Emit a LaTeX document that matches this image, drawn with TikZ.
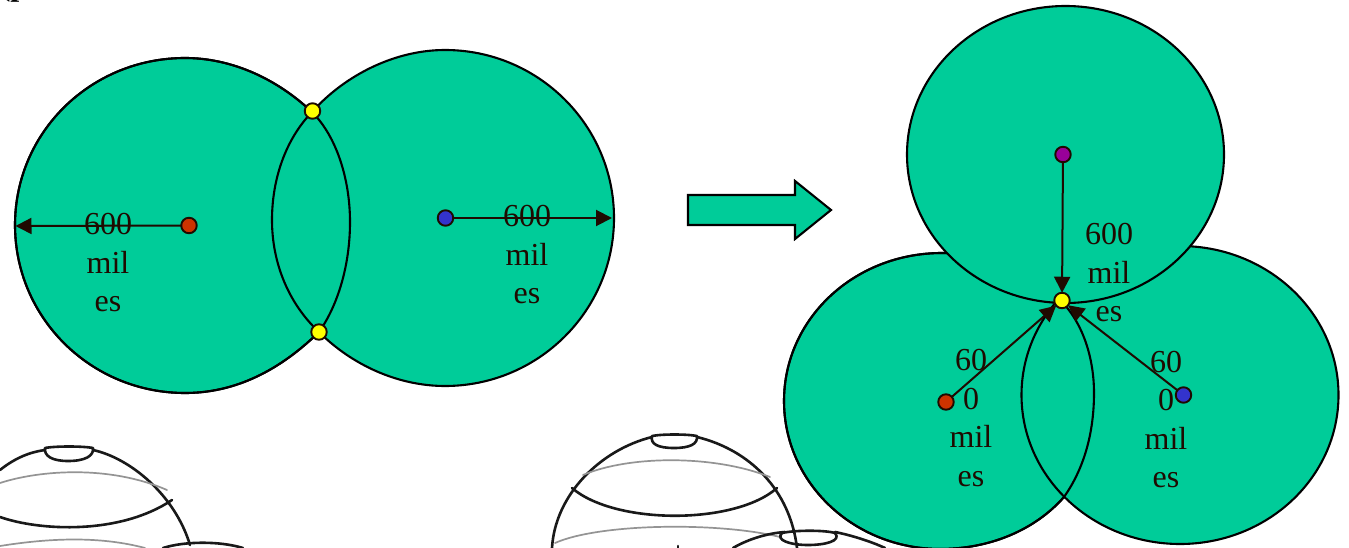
\documentclass[tikz,border=0pt]{standalone}
\usepackage{fontspec}
\setmainfont{Liberation Serif}
\usetikzlibrary{shapes.geometric,arrows.meta}
\definecolor{disc}{HTML}{00CC99}
\definecolor{ink}{HTML}{1F0A00}
\definecolor{redd}{HTML}{CC3300}
\definecolor{blued}{HTML}{3333CC}
\definecolor{purpled}{HTML}{990099}
\definecolor{yellowd}{HTML}{FFFF00}
\tikzset{
  discpath/.style={draw=black,fill=disc,line width=2.1pt,line join=round},
  discline/.style={draw=black,line width=2.1pt,line join=round},
  discshape/.style={ellipse,draw=black,fill=disc,line width=2.1pt,inner sep=0pt,outer sep=0pt},
  dot/.style={circle,draw=ink,line width=1.9pt,minimum size=15.5pt,inner sep=0pt,outer sep=0pt},
  lbl/.style={text=ink,font=\fontsize{32}{38.5}\selectfont,align=center,inner sep=0pt},
  radius arrow/.style={draw=ink,line width=2pt,-{Triangle[length=16pt,width=16pt]}},
  globe/.style={draw=black!90,line width=2.6pt,line join=round,line cap=round},
  globegray/.style={draw=black!42,line width=1.7pt,line cap=round},
  cuttext/.style={font=\fontsize{32}{38}\selectfont\bfseries,anchor=base,inner sep=0pt,text=black}
}
\newcommand{\discA}{(185,58) .. controls (232,58) and (277,79) .. (312,112) .. controls (337,137) and (350,180) .. (350,222) .. controls (350,265) and (338,305) .. (319,332) .. controls (275,375) and (230,393) .. (185,393) .. controls (91,393) and (15,318) .. (15,225) .. controls (15,132) and (91,58) .. (185,58) -- cycle}
\newcommand{\discB}{(445,50) .. controls (395,50) and (345,75) .. (312,112) .. controls (285,140) and (272,180) .. (272,220) .. controls (272,265) and (290,305) .. (319,332) .. controls (352,365) and (398,386) .. (445,386) .. controls (538,386) and (614,311) .. (614,218) .. controls (614,125) and (538,50) .. (445,50) -- cycle}
\newcommand{\discC}{(942,253) .. controls (990,253) and (1030,272) .. (1062,302) .. controls (1084,325) and (1094,360) .. (1094,393) .. controls (1094,435) and (1083,470) .. (1064,497) .. controls (1035,530) and (990,549) .. (940,549) .. controls (854,549) and (784,483) .. (784,401) .. controls (784,319) and (854,253) .. (942,253) -- cycle}
\begin{document}
\begin{tikzpicture}[x=1pt,y=-1pt]
\useasboundingbox (0,0) rectangle (1349,548);
\clip (0,0) rectangle (1349,548);
\fill[white] (0,0) rectangle (1349,548);
% clipped heading
\node[cuttext] (headA) at (14,-4) {(p};
\node[cuttext] (headB) at (579,-5) {,};
% globes
\draw[globe] (0,470) .. controls (15,458) and (30,452) .. (45,450);
\draw[globe] (93,450) .. controls (130,458) and (175,495) .. (190,545);
\draw[globe] (45,448) .. controls (55,446) and (83,446) .. (93,448) .. controls (94,456) and (85,461) .. (68,461) .. controls (52,461) and (44,456) .. (45,448) -- cycle;
\draw[globe] (0,517) .. controls (40,531) and (120,535) .. (172,500);
\draw[globegray] (0,483) .. controls (40,470) and (110,465) .. (167,490);
\draw[globegray] (0,546) .. controls (50,538) and (100,536) .. (145,548);
\draw[globe] (163,548) .. controls (185,541) and (220,541) .. (243,548);
\draw[globe] (552,548) .. controls (555,495) and (600,450) .. (652,437);
\draw[globe] (697,437) .. controls (750,450) and (790,490) .. (797,548);
\draw[globe] (652,436) .. controls (662,434) and (687,434) .. (697,436) .. controls (698,444) and (690,448) .. (674,448) .. controls (658,448) and (650,444) .. (652,436) -- cycle;
\draw[globe] (572,488) .. controls (615,525) and (735,525) .. (777,488);
\draw[globegray] (583,475) .. controls (630,455) and (715,455) .. (770,477);
\draw[globegray] (555,543) .. controls (600,523) and (720,522) .. (780,537);
\draw[globe] (733,548) .. controls (750,538) and (770,533) .. (785,532);
\draw[globe] (835,532) .. controls (850,535) and (870,541) .. (885,548);
\draw[globe] (782,533) .. controls (795,530) and (825,530) .. (835,533) .. controls (842,541) and (825,545) .. (808,545) .. controls (790,545) and (775,540) .. (782,533) -- cycle;
\draw[globe] (678,548) -- (678,546);
% left pair
\path[discpath] \discA;
\path[discpath] \discB;
\draw[discline] \discA;
% block arrow
\draw[fill=disc,draw=black,line width=2.1pt] (688,195) -- (795,195) -- (795,181) -- (831,210) -- (795,239) -- (795,225) -- (688,225) -- cycle;
% right triple
\path[discpath] \discC;
\node[discshape,minimum width=317pt,minimum height=298pt] (c4) at (1180,395) {};
\draw[discline] \discC;
\node[discshape,minimum width=317pt,minimum height=297pt] (c5) at (1065.5,154.5) {};
% labels
\node[lbl] (t1) at (108,263) {600\\mil\\es};
\node[lbl] (t2) at (527,255) {600\\mil\\es};
\node[lbl] (t3) at (1109,273) {600\\mil\\es};
\node[lbl] (t4) at (971,418) {60\\0\\mil\\es};
\node[lbl] (t5) at (1166,419.5) {60\\0\\mil\\es};
% dots
\node[dot,fill=redd] (d1) at (189,225.5) {};
\node[dot,fill=blued] (d2) at (445.5,218) {};
\node[dot,fill=yellowd] (y1) at (312.5,111) {};
\node[dot,fill=yellowd] (y2) at (319,332) {};
\node[dot,fill=purpled] (d3) at (1063,154.5) {};
\node[dot,fill=redd] (d4) at (946,402) {};
\node[dot,fill=blued] (d5) at (1183.5,395) {};
\node[dot,fill=yellowd] (y3) at (1062,300.5) {};
% connectors
\coordinate (e1) at (15.5,226);
\coordinate (e2) at (612,218);
\draw[radius arrow] (d1) -- (e1);
\draw[radius arrow] (d2) -- (e2);
\draw[radius arrow] (d3) -- (y3);
\draw[radius arrow] (d4) -- (y3);
\draw[radius arrow] (d5) -- (y3);
\end{tikzpicture}
\end{document}
